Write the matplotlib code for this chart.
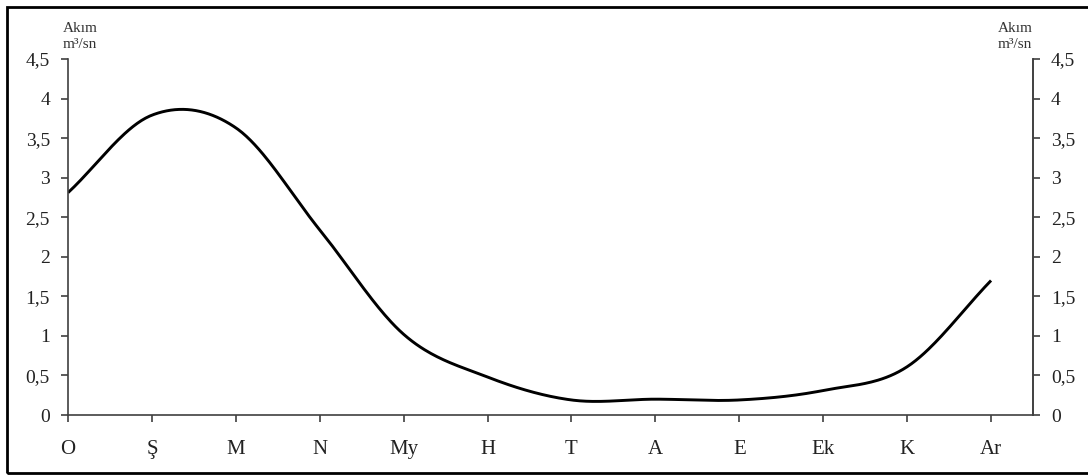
import numpy as np
import matplotlib
matplotlib.use("Agg")
import matplotlib.pyplot as plt
from matplotlib.patches import Rectangle

# monthly flow (m3/s), water year starting in October
months = ["O", "Ş", "M", "N", "My", "H", "T", "A", "E", "Ek", "K", "Ar"]
flow = [2.81, 3.79, 3.63, 2.34, 1.02, 0.48, 0.19, 0.20, 0.19, 0.31, 0.61, 1.70]
yticks = [0, 0.5, 1, 1.5, 2, 2.5, 3, 3.5, 4, 4.5]
ytick_labels = ["0", "0,5", "1", "1,5", "2", "2,5", "3", "3,5", "4", "4,5"]


def smooth_curve(y, n=40):
    # Catmull-Rom spline through the monthly points (like a spreadsheet "smoothed line")
    y = np.asarray(y, dtype=float)
    p = np.concatenate([[2 * y[0] - y[1]], y, [2 * y[-1] - y[-2]]])
    xs, ys = [], []
    for i in range(len(y) - 1):
        p0, p1, p2, p3 = p[i], p[i + 1], p[i + 2], p[i + 3]
        t = np.linspace(0, 1, n, endpoint=(i == len(y) - 2))
        seg = 0.5 * ((2 * p1) + (-p0 + p2) * t + (2 * p0 - 5 * p1 + 4 * p2 - p3) * t ** 2
                     + (-p0 + 3 * p1 - 3 * p2 + p3) * t ** 3)
        xs.append(i + t)
        ys.append(seg)
    return np.concatenate(xs), np.concatenate(ys)


plt.rcParams["font.family"] = ["Liberation Serif", "DejaVu Serif"]
spine_col = "#404040"

fig = plt.figure(figsize=(10.88, 4.76), dpi=100)
ax = fig.add_axes([68 / 1088, 1 - 415 / 476, (1033 - 68) / 1088, (415 - 59) / 476])

sx, sy = smooth_curve(flow)
ax.plot(sx, sy, color="black", linewidth=2.1, solid_capstyle="butt")

ax.set_xlim(0, 11.5)
ax.set_ylim(0, 4.5)
ax.set_xticks(range(len(months)))
ax.set_xticklabels(months, fontsize=15, color="#222222")
ax.set_yticks(yticks)
ax.set_yticklabels(ytick_labels, fontsize=14, color="#222222")
ax.spines["top"].set_visible(False)
for s in ["left", "bottom", "right"]:
    ax.spines[s].set_color(spine_col)
    ax.spines[s].set_linewidth(1.2)
ax.tick_params(axis="x", direction="out", length=5, width=1.2, color=spine_col, pad=13)
ax.tick_params(axis="y", direction="out", length=5, width=1.2, color=spine_col, pad=8)

ax2 = ax.twinx()
ax2.set_ylim(0, 4.5)
ax2.set_yticks(yticks)
ax2.set_yticklabels(ytick_labels, fontsize=14, color="#222222")
ax2.spines["top"].set_visible(False)
ax2.spines["left"].set_visible(False)
ax2.spines["bottom"].set_visible(False)
ax2.spines["right"].set_color(spine_col)
ax2.spines["right"].set_linewidth(1.2)
ax2.tick_params(axis="y", direction="out", length=5, width=1.2, color=spine_col, pad=8)

# axis titles above both y axes
for xc in (80, 1015):
    fig.text(xc / 1088, 1 - 28 / 476, "Akım", fontsize=11, ha="center", va="center", color="#333333")
    fig.text(xc / 1088, 1 - 45 / 476, "m³/sn", fontsize=11, ha="center", va="center", color="#333333")

# outer frame
fig.patches.append(Rectangle((7 / 1088, 3 / 476), 1.1, 466 / 476, transform=fig.transFigure,
                             fill=False, edgecolor="black", linewidth=2.0))

fig.savefig("out.png", dpi=100, facecolor="white")
